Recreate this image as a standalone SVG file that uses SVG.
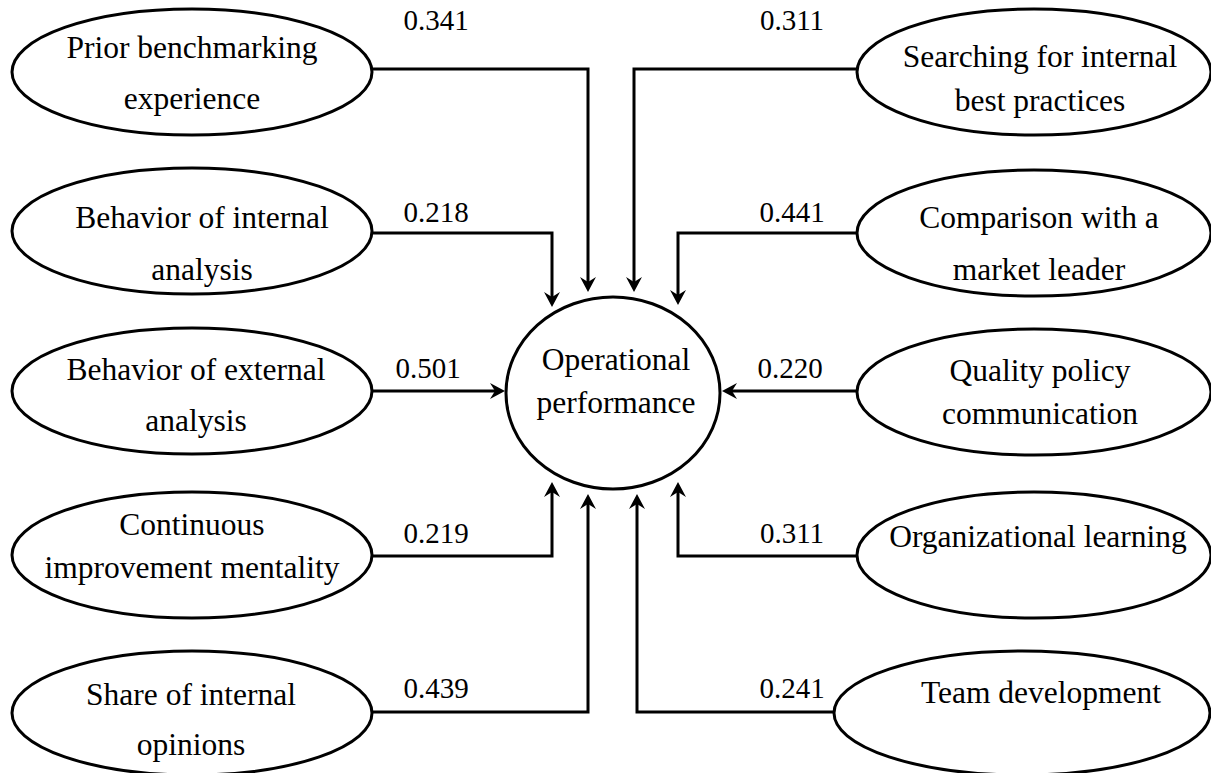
<svg xmlns="http://www.w3.org/2000/svg" width="1211" height="773" viewBox="0 0 1211 773">
<style>
.node ellipse{fill:#fff;stroke:#000;stroke-width:3}
.node text{font-family:"Liberation Serif","Times New Roman",serif;font-size:31.5px;fill:#000;text-anchor:middle}
.lbl{font-family:"Liberation Serif","Times New Roman",serif;font-size:29px;fill:#000;text-anchor:middle}
.conn path{fill:none;stroke:#000;stroke-width:3;marker-end:url(#arr)}
</style>
<defs>
<marker id="arr" markerUnits="userSpaceOnUse" markerWidth="20" markerHeight="20" viewBox="-10 -10 20 20" refX="0" refY="0" orient="auto">
<path d="M-7,-8 L8,0 L-7,8 L-2,0 Z" fill="#000"/>
</marker>
</defs>
<rect width="1211" height="773" fill="#fff"/>
<g id="connectors" class="conn">
<path d="M372,69 H588 V284"/>
<path d="M372,233 H552 V299"/>
<path d="M372,391 H497"/>
<path d="M372,556 H552 V490"/>
<path d="M372,712 H588 V502"/>
<path d="M857,69 H634 V284"/>
<path d="M857,233 H678 V297"/>
<path d="M857,391 H730"/>
<path d="M857,556 H678 V490"/>
<path d="M834,712 H637 V502"/>
</g>
<g id="labels">
<text class="lbl" x="436" y="30">0.341</text>
<text class="lbl" x="436" y="222">0.218</text>
<text class="lbl" x="428" y="378">0.501</text>
<text class="lbl" x="436" y="543">0.219</text>
<text class="lbl" x="436" y="698">0.439</text>
<text class="lbl" x="792" y="30">0.311</text>
<text class="lbl" x="792" y="222">0.441</text>
<text class="lbl" x="790" y="378">0.220</text>
<text class="lbl" x="792" y="543">0.311</text>
<text class="lbl" x="792" y="698">0.241</text>
</g>
<g id="n-prior" class="node"><ellipse cx="192" cy="72" rx="180" ry="63"/><text x="192" y="58">Prior benchmarking</text><text x="192" y="109">experience</text></g>
<g id="n-internal" class="node"><ellipse cx="192" cy="231" rx="180" ry="63"/><text x="202" y="228">Behavior of internal</text><text x="202" y="280">analysis</text></g>
<g id="n-external" class="node"><ellipse cx="192" cy="391" rx="180" ry="63"/><text x="196" y="380">Behavior of external</text><text x="196" y="431">analysis</text></g>
<g id="n-continuous" class="node"><ellipse cx="192" cy="555" rx="180" ry="63"/><text x="192" y="535">Continuous</text><text x="192" y="578">improvement mentality</text></g>
<g id="n-share" class="node"><ellipse cx="192" cy="713" rx="180" ry="62"/><text x="191" y="705">Share of internal</text><text x="191" y="755">opinions</text></g>
<g id="n-searching" class="node"><ellipse cx="1034" cy="72" rx="177" ry="63"/><text x="1040" y="67">Searching for internal</text><text x="1040" y="111">best practices</text></g>
<g id="n-comparison" class="node"><ellipse cx="1034" cy="233" rx="177" ry="63"/><text x="1039" y="228">Comparison with a</text><text x="1039" y="280">market leader</text></g>
<g id="n-quality" class="node"><ellipse cx="1034" cy="392" rx="177" ry="63"/><text x="1040" y="381">Quality policy</text><text x="1040" y="424">communication</text></g>
<g id="n-learning" class="node"><ellipse cx="1034" cy="555" rx="177" ry="63"/><text x="1038" y="547">Organizational learning</text></g>
<g id="n-team" class="node"><ellipse cx="1022" cy="713" rx="188" ry="62"/><text x="1041" y="703">Team development</text></g>
<g id="n-operational" class="node"><ellipse cx="613" cy="393" rx="107" ry="96"/><text x="616" y="370">Operational</text><text x="616" y="413">performance</text></g>
</svg>
